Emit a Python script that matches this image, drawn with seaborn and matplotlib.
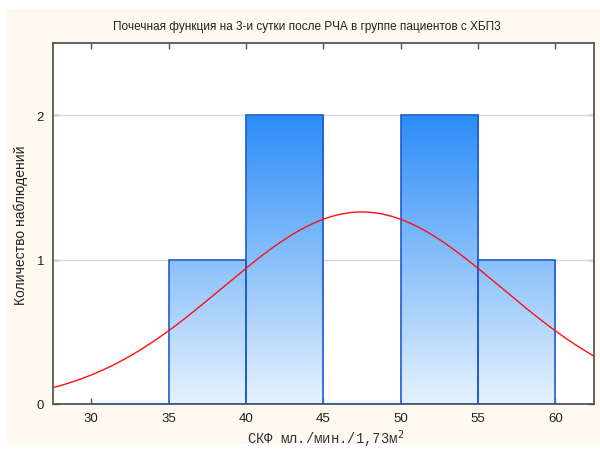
import numpy as np
import pandas as pd
import matplotlib
matplotlib.use("Agg")
import matplotlib.pyplot as plt
from matplotlib import font_manager
from matplotlib.patches import Rectangle
from matplotlib.colors import LinearSegmentedColormap
import seaborn as sns

# Histogram bins (ml/min/1.73m2) and observed counts per bin
bin_edges = [30, 35, 40, 45, 50, 55, 60]
bin_centers = [32.5, 37.5, 42.5, 47.5, 52.5, 57.5]
counts = [0, 1, 2, 0, 2, 1]

# Fitted normal curve parameters
fit_mean = 47.5
fit_sd = 9.0

x_ticks = [30, 35, 40, 45, 50, 55, 60]
y_ticks = [0, 1, 2]

title = "Почечная функция на 3-и сутки после РЧА в группе пациентов с ХБП3"
x_label = "СКФ мл./мин./1,73м$^{2}$"
y_label = "Количество наблюдений"

sns.set_theme(style="white")
avail = {f.name for f in font_manager.fontManager.ttflist}
narrow = "Liberation Sans Narrow" if "Liberation Sans Narrow" in avail else "Liberation Sans"
plt.rcParams["font.family"] = ["Liberation Sans", "DejaVu Sans"]

W, H = 600, 452
fig = plt.figure(figsize=(W / 100, H / 100), dpi=100)
fig.patch.set_facecolor("white")
# cream panel behind the chart
fig.patches.append(Rectangle((6 / W, 7 / H), 1 - 6 / W, (H - 10 - 7) / H,
                             transform=fig.transFigure, facecolor="#fffaf0",
                             edgecolor="none", zorder=-10))

ax = fig.add_axes([52.5 / W, (H - 405) / H, (594 - 52.5) / W, (405 - 44) / H])
ax.set_facecolor("white")

df = pd.DataFrame({"center": bin_centers, "count": counts})
sns.histplot(data=df, x="center", weights="count", bins=bin_edges, ax=ax,
             stat="count", element="bars", fill=True,
             facecolor="none", edgecolor="#1f5ccc", linewidth=1.2, zorder=3)

xlim = (27.5, 62.5)
ylim = (0, 2.5)

# vertical gradient fill clipped to each bar
cmap = LinearSegmentedColormap.from_list("bar", ["#e6f2fe", "#2c8df8"])
grad = np.linspace(1, 0, 256).reshape(-1, 1)
for p in list(ax.patches):
    if p.get_height() <= 0:
        continue
    im = ax.imshow(grad, extent=(xlim[0], xlim[1], 0, 2), cmap=cmap,
                   aspect="auto", zorder=2, interpolation="bilinear")
    im.set_clip_path(p)

# fitted normal curve
xs = np.linspace(xlim[0], xlim[1], 300)
bw = bin_edges[1] - bin_edges[0]
ys = sum(counts) * bw / (fit_sd * np.sqrt(2 * np.pi)) * np.exp(-0.5 * ((xs - fit_mean) / fit_sd) ** 2)
sns.lineplot(x=xs, y=ys, ax=ax, color="#ff1010", linewidth=1.0, zorder=4)

ax.set_xlim(*xlim)
ax.set_ylim(*ylim)
ax.set_xticks(x_ticks)
ax.set_yticks(y_ticks)
for yv in y_ticks[1:]:
    ax.axhline(yv, color="#d9d9d9", linewidth=1.0, zorder=1)

ax.tick_params(axis="both", direction="in", length=4, width=1, color="#555555",
               labelsize=9.5, labelcolor="#222222", top=True, right=True,
               bottom=True, left=True, pad=6)
for s in ax.spines.values():
    s.set_color("#555555")
    s.set_linewidth(1.3)

ax.set_xlabel("")
ax.set_ylabel("")
fig.text(326 / W, 1 - 439 / H, x_label, ha="center", va="center",
         fontsize=10, color="#333333",
         family=["Liberation Mono", "DejaVu Sans Mono"])
fig.text(21 / W, 1 - 225 / H, y_label, ha="center", va="center",
         rotation=90, fontsize=10, color="#222222")
fig.text(307 / W, 1 - 27 / H, title, ha="center", va="center",
         fontsize=8.5, color="#222222", family=[narrow, "DejaVu Sans"])

fig.savefig("out.png", dpi=100, facecolor=fig.get_facecolor())
